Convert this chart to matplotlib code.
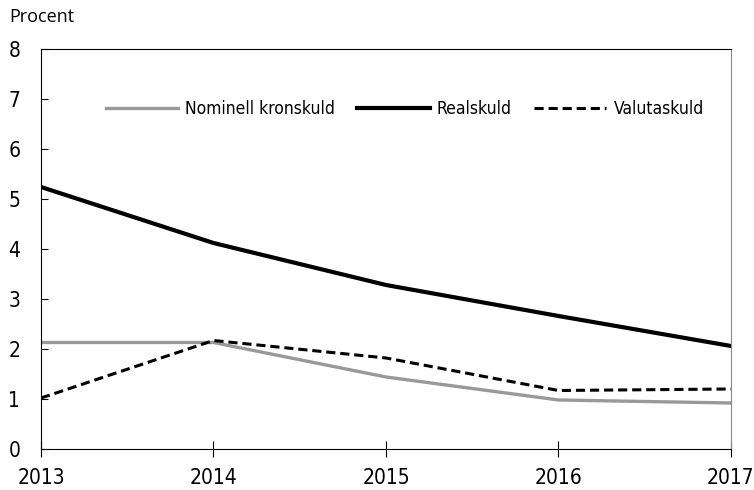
import matplotlib
matplotlib.use("Agg")
import matplotlib.pyplot as plt
from matplotlib import font_manager

years = [2013, 2014, 2015, 2016, 2017]
nominell = [2.13, 2.13, 1.44, 0.98, 0.92]
real = [5.24, 4.12, 3.28, 2.66, 2.06]
valuta = [1.02, 2.17, 1.82, 1.17, 1.20]

# condensed face for ticks and legend, like the original
cond = dict(family="DejaVu Sans", stretch="condensed")

fig = plt.figure(figsize=(7.54, 4.90), dpi=100)
ax = fig.add_axes([0.0544, 0.0837, 0.915, 0.8163])

ax.plot(years, nominell, color="#999999", lw=2.4, label="Nominell kronskuld")
ax.plot(years, real, color="black", lw=3.0, label="Realskuld")
ax.plot(years, valuta, color="black", lw=2.2, ls=(0, (3, 1.6)), label="Valutaskuld")

ax.set_xlim(2013, 2017)
ax.set_ylim(0, 8)
ax.set_xticks(years)
ax.set_yticks(range(0, 9))
ax.tick_params(axis="y", direction="in", length=5, labelsize=15, pad=15)
ax.tick_params(axis="x", direction="inout", length=11, labelsize=15, pad=8)
for lab in ax.get_xticklabels() + ax.get_yticklabels():
    lab.set_family(cond["family"])
    lab.set_stretch(cond["stretch"])
ax.spines["right"].set_color("#888888")

leg = ax.legend(loc="center", bbox_to_anchor=(0.527, 0.85), ncol=3, frameon=False,
                handlelength=4.2, handletextpad=0.4, columnspacing=1.25,
                prop=font_manager.FontProperties(size=12.5, **cond))

fig.text(0.012, 0.955, "Procent", fontsize=13, family="Open Sans")

fig.savefig("out.png", dpi=100)
